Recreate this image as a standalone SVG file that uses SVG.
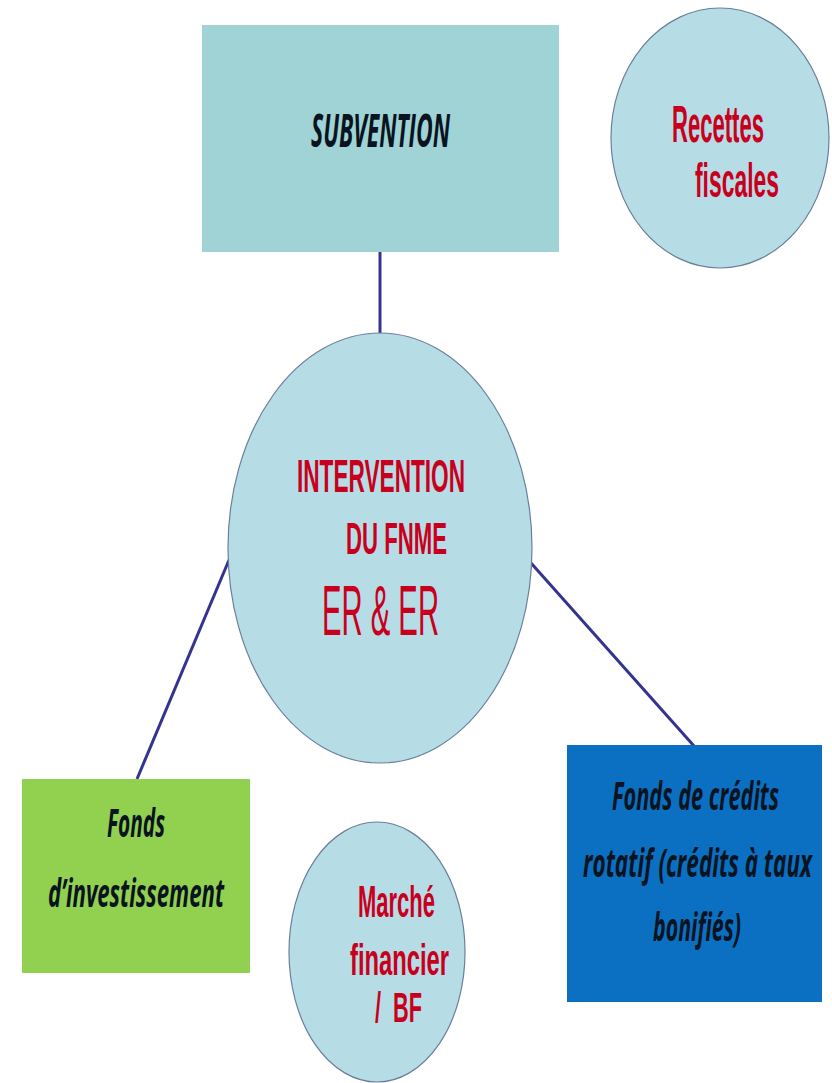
<svg xmlns="http://www.w3.org/2000/svg" width="832" height="1083" viewBox="0 0 832 1083">
<style>
.lbl{font-family:"Liberation Sans",Arial,sans-serif;}
.red{fill:#c8001e;font-weight:bold;}
.blk{fill:#0a1420;font-weight:bold;font-style:italic;font-family:"Open Sans","Liberation Sans",sans-serif;}
.ell{fill:#b6dde5;stroke:#6b7f9a;stroke-width:1.2;}
.con{stroke:#34348f;stroke-width:3;fill:none;}
</style>
<rect width="832" height="1083" fill="#ffffff"/>
<g id="connectors">
<line class="con" x1="380" y1="252" x2="380" y2="334"/>
<line class="con" x1="229" y1="560" x2="137" y2="779"/>
<line class="con" x1="531" y1="563" x2="694" y2="746"/>
</g>
<g id="subvention">
<rect x="202" y="25" width="357" height="227" fill="#9fd3d6"/>
<text class="lbl blk" transform="translate(311,147) scale(0.5,1)" font-size="47" textLength="278" lengthAdjust="spacingAndGlyphs">SUBVENTION</text>
</g>
<g id="recettes">
<ellipse class="ell" cx="720" cy="138" rx="109" ry="130"/>
<text class="lbl red" transform="translate(672,142) scale(0.5,1)" font-size="52" textLength="184" lengthAdjust="spacingAndGlyphs">Recettes</text>
<text class="lbl red" transform="translate(695,197) scale(0.5,1)" font-size="49" textLength="168" lengthAdjust="spacingAndGlyphs">fiscales</text>
</g>
<g id="intervention">
<ellipse class="ell" cx="380" cy="548" rx="152" ry="215"/>
<text class="lbl red" transform="translate(297,492) scale(0.5,1)" font-size="47" textLength="336" lengthAdjust="spacingAndGlyphs">INTERVENTION</text>
<text class="lbl red" transform="translate(346,554) scale(0.5,1)" font-size="44" textLength="202" lengthAdjust="spacingAndGlyphs">DU FNME</text>
<text class="lbl" transform="translate(322,635) scale(0.5,1)" font-size="70" fill="#c8001e" textLength="234" lengthAdjust="spacingAndGlyphs">ER &amp; ER</text>
</g>
<g id="fonds-invest">
<rect x="22" y="779" width="228" height="194" fill="#92d050"/>
<text class="lbl blk" transform="translate(107,837) scale(0.5,1)" font-size="40" textLength="116" lengthAdjust="spacingAndGlyphs">Fonds</text>
<text class="lbl blk" transform="translate(48,907) scale(0.5,1)" font-size="40" textLength="352" lengthAdjust="spacingAndGlyphs">d’investissement</text>
</g>
<g id="marche">
<ellipse class="ell" cx="377" cy="952" rx="88" ry="130"/>
<text class="lbl red" transform="translate(358,917) scale(0.5,1)" font-size="45" textLength="154" lengthAdjust="spacingAndGlyphs">Marché</text>
<text class="lbl red" transform="translate(350,975) scale(0.5,1)" font-size="45" textLength="198" lengthAdjust="spacingAndGlyphs">financier</text>
<text class="lbl red" xml:space="preserve" transform="translate(375,1022) scale(0.5,1)" font-size="43" textLength="94" lengthAdjust="spacingAndGlyphs">/  BF</text>
</g>
<g id="fonds-credits">
<rect x="567" y="745" width="255" height="257" fill="#0b6fc2"/>
<text class="lbl blk" transform="translate(612,810) scale(0.5,1)" font-size="40" textLength="334" lengthAdjust="spacingAndGlyphs">Fonds de crédits</text>
<text class="lbl blk" transform="translate(583,877) scale(0.5,1)" font-size="40" textLength="458" lengthAdjust="spacingAndGlyphs">rotatif (crédits à taux</text>
<text class="lbl blk" transform="translate(653,941) scale(0.5,1)" font-size="40" textLength="176" lengthAdjust="spacingAndGlyphs">bonifiés)</text>
</g>
</svg>
